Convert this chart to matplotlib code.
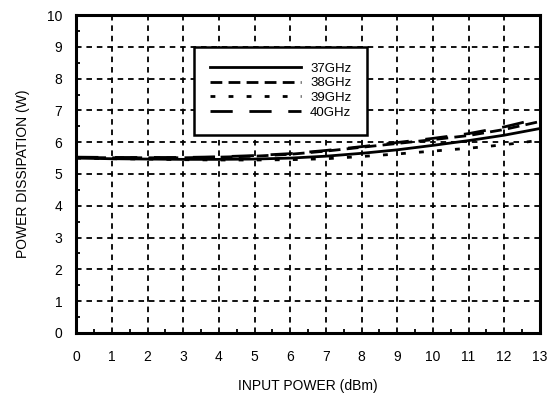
import numpy as np
import matplotlib
matplotlib.use("Agg")
import matplotlib.pyplot as plt

plt.rcParams['font.family'] = ['Liberation Sans', 'DejaVu Sans']
plt.rcParams['lines.scale_dashes'] = False

pin = [0, 1, 2, 3, 4, 5, 6, 7, 8, 9, 10, 11, 12, 13]
p37 = [5.50, 5.48, 5.47, 5.46, 5.46, 5.47, 5.50, 5.56, 5.65, 5.76, 5.90, 6.05, 6.22, 6.43]
p38 = [5.52, 5.51, 5.51, 5.51, 5.53, 5.56, 5.62, 5.72, 5.84, 5.96, 6.08, 6.21, 6.40, 6.65]
p39 = [5.50, 5.48, 5.47, 5.45, 5.44, 5.44, 5.45, 5.48, 5.55, 5.63, 5.72, 5.81, 5.92, 6.06]
p40 = [5.53, 5.52, 5.52, 5.52, 5.54, 5.58, 5.64, 5.74, 5.86, 5.99, 6.12, 6.27, 6.48, 6.75]

labels = ['37GHz', '38GHz', '39GHz', '40GHz']
styles = ['-', (0, (8.5, 4.5)), (0, (3.5, 9.5)), (0, (16, 12))]

fig = plt.figure(figsize=(5.52, 3.95), dpi=100)
ax = fig.add_axes([0.138, 0.157, 0.840, 0.805])

for y, lab, ls in zip([p37, p38, p39, p40], labels, styles):
    ax.plot(pin, y, color='black', lw=2.0, linestyle=ls, label=lab)

ax.set_xlim(0, 13)
ax.set_ylim(0, 10)
ax.set_xticks(range(0, 14))
ax.set_yticks(range(0, 11))
ax.set_xticks(np.arange(0.5, 13, 1), minor=True)
ax.set_yticks(np.arange(0.5, 10, 1), minor=True)
ax.tick_params(which='both', direction='in', labelsize=10, color='black')
ax.tick_params(which='major', length=0, pad=12)
ax.tick_params(axis='y', which='major', pad=10)
ax.tick_params(which='minor', length=3, width=1.3)
ax.grid(True, which='major', color='black', lw=1.3, linestyle=(0, (4, 3.5)))
for s in ax.spines.values():
    s.set_linewidth(2.2)

ax.set_xlabel('INPUT POWER (dBm)', fontsize=10, labelpad=11)
ax.set_ylabel('POWER DISSIPATION (W)', fontsize=10, labelpad=12)

leg = ax.legend(loc='upper left', bbox_to_anchor=(0.254, 0.9), fontsize=9.5,
                handlelength=6.9, handletextpad=0.7, labelspacing=0.18,
                borderpad=1.2, borderaxespad=0, fancybox=False, framealpha=1)
leg.get_frame().set_edgecolor('black')
leg.get_frame().set_linewidth(1.8)

fig.savefig('out.png', dpi=100)
